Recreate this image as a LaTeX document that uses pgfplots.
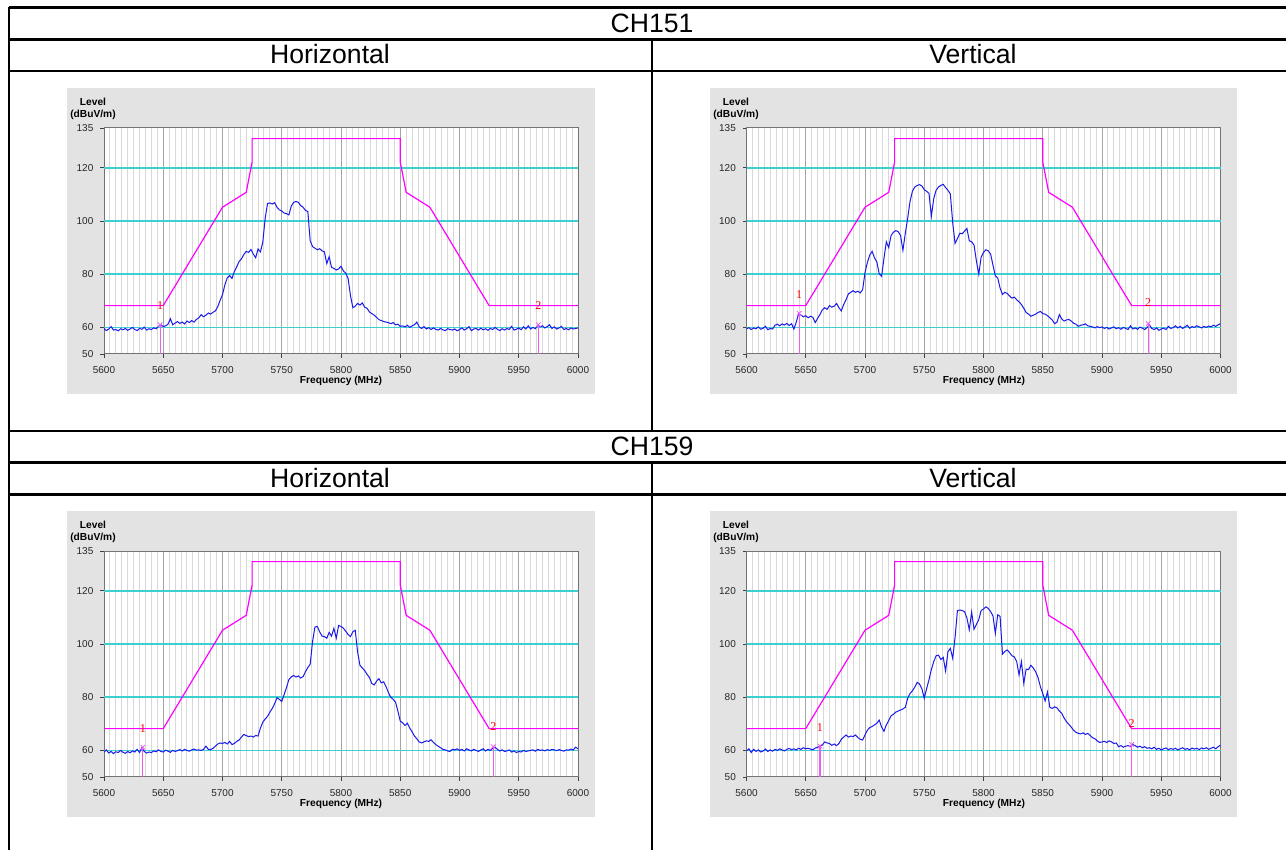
\documentclass[border=0pt]{standalone}
\usepackage{fontspec}
\setmainfont{Liberation Sans}
\newfontfamily\labfont{Liberation Serif}
\usepackage{pgfplots}
\usepackage{pgfplotstable}
\pgfplotsset{compat=1.18}

\definecolor{panel}{RGB}{227,227,227}
\definecolor{gridmaj}{RGB}{165,165,165}
\definecolor{gridmin}{RGB}{216,216,216}
\definecolor{gridcy}{RGB}{60,208,208}
\definecolor{maskc}{RGB}{255,0,255}
\definecolor{tracec}{RGB}{25,25,235}
\definecolor{mkc}{RGB}{240,90,240}

% spectrum traces, 2 MHz steps
\pgfplotstableread{
f h151 v151 h159 v159
5600 59.6 59.4 59.4 59.8
5602 58.8 59.9 60.2 60.6
5604 59.4 59.2 59.0 59.2
5606 60.3 59.8 59.6 60.4
5608 59.0 59.5 58.8 59.6
5610 59.2 60.2 59.5 60.2
5612 58.7 59.3 59.2 59.4
5614 59.5 59.7 60.0 59.8
5616 59.1 60.4 59.3 60.5
5618 59.6 59.1 58.9 59.6
5620 58.9 59.6 59.6 60.2
5622 59.4 59.4 59.1 59.7
5624 60.0 60.8 59.8 60.4
5626 59.2 61.2 59.4 60.0
5628 58.8 60.6 60.4 60.6
5630 59.6 61.3 59.2 60.2
5632 59.3 60.9 61.0 59.8
5634 60.1 61.5 59.6 60.4
5636 59.0 60.7 59.0 60.7
5638 59.5 61.4 59.4 60.3
5640 59.2 59.4 59.2 60.6
5642 59.8 62.0 59.8 60.2
5644 59.5 65.2 59.5 60.8
5646 60.4 64.6 60.2 60.4
5648 61.0 64.0 59.6 61.0
5650 60.3 64.4 59.4 60.6
5652 60.6 63.6 60.1 60.8
5654 61.2 64.2 59.7 60.5
5656 63.3 63.8 59.3 60.2
5658 61.0 61.8 60.0 60.9
5660 61.6 63.4 59.6 61.2
5662 62.2 64.8 59.9 61.6
5664 61.5 66.6 60.3 62.0
5666 62.0 67.4 59.8 63.2
5668 61.3 66.8 60.4 62.8
5670 62.4 68.2 60.0 62.6
5672 61.8 67.6 59.7 61.9
5674 62.6 68.0 60.2 62.4
5676 62.0 69.0 60.5 61.8
5678 63.0 67.4 60.1 62.6
5680 63.6 66.2 60.2 64.2
5682 64.8 68.6 60.0 65.0
5684 64.0 70.4 60.4 65.8
5686 64.6 72.6 61.6 65.0
5688 65.4 73.2 60.4 65.4
5690 65.0 73.8 60.3 65.2
5692 65.7 73.2 60.8 65.8
5694 66.2 73.6 61.6 64.8
5696 67.8 73.0 62.4 64.2
5698 70.2 74.2 62.8 63.9
5700 72.3 80.6 62.6 65.8
5702 76.0 84.4 63.0 67.6
5704 78.6 87.2 62.4 68.6
5706 79.5 88.6 63.4 69.0
5708 78.4 86.2 62.2 69.6
5710 81.0 84.6 62.6 70.2
5712 82.8 80.2 63.4 71.4
5714 84.8 79.2 63.9 68.8
5716 85.8 86.0 65.0 67.2
5718 87.4 92.2 66.0 69.6
5720 88.6 90.0 65.6 71.2
5722 88.2 94.6 65.2 73.0
5724 89.3 95.8 65.4 73.6
5726 87.6 96.4 65.0 74.4
5728 86.2 96.0 65.6 74.8
5730 89.5 94.6 65.4 75.2
5732 88.4 89.0 68.4 75.6
5734 92.0 95.4 70.6 76.2
5736 101.0 101.0 71.8 79.6
5738 106.6 107.4 72.8 81.4
5740 106.8 111.2 74.4 82.4
5742 106.4 112.8 75.8 83.8
5744 106.9 113.4 77.6 85.6
5746 105.2 113.7 79.8 85.0
5748 104.2 113.2 79.2 83.2
5750 103.8 111.8 78.4 79.6
5752 103.0 111.2 81.0 83.2
5754 102.8 110.4 83.6 86.6
5756 102.3 101.8 86.6 90.4
5758 105.6 108.4 87.6 93.4
5760 107.0 111.6 88.2 95.6
5762 107.4 112.8 87.6 95.8
5764 107.0 113.4 88.0 94.2
5766 105.8 113.8 87.2 95.0
5768 105.2 112.6 87.8 89.9
5770 104.0 111.6 89.6 97.1
5772 103.6 110.2 91.2 98.4
5774 92.6 99.4 92.4 94.6
5776 90.4 91.6 101.0 102.4
5778 89.8 93.4 106.4 112.6
5780 89.2 95.4 106.6 112.8
5782 89.6 95.2 104.6 112.6
5784 88.8 96.2 103.0 112.2
5786 88.4 97.2 102.8 109.8
5788 84.0 92.6 102.2 105.4
5790 86.6 92.2 104.4 112.0
5792 82.6 91.0 103.0 105.6
5794 82.2 85.0 105.9 107.4
5796 81.6 80.0 102.2 109.2
5798 82.0 86.4 107.0 112.6
5800 83.0 88.2 106.6 113.2
5802 81.2 89.2 106.0 114.0
5804 80.4 88.8 104.8 113.4
5806 78.4 87.6 103.6 112.2
5808 72.0 83.4 102.8 110.6
5810 67.4 79.4 104.6 104.0
5812 68.0 78.6 105.2 111.0
5814 69.0 74.8 97.0 110.4
5816 68.4 72.4 92.0 96.2
5818 69.2 73.2 91.0 97.2
5820 67.6 72.8 90.0 97.8
5822 67.2 71.8 88.6 96.8
5824 65.8 71.0 87.4 95.6
5826 65.2 71.4 85.2 95.2
5828 64.6 70.4 84.6 93.4
5830 63.8 69.6 86.0 88.4
5832 62.9 68.6 87.0 93.4
5834 62.6 67.2 85.4 85.2
5836 62.2 65.6 85.8 90.6
5838 62.0 65.0 84.0 90.4
5840 61.8 64.2 81.8 92.0
5842 61.4 64.6 80.0 91.0
5844 61.8 65.0 79.2 89.6
5846 61.0 65.6 78.2 87.4
5848 61.2 66.0 74.8 84.0
5850 60.4 65.2 71.0 81.4
5852 60.6 65.0 70.4 78.6
5854 60.2 64.4 69.4 82.0
5856 60.8 63.6 70.2 76.2
5858 60.0 62.8 68.4 75.8
5860 60.6 61.4 67.0 76.4
5862 61.0 62.0 65.4 76.0
5864 62.0 64.8 64.4 74.8
5866 60.2 63.2 63.2 74.0
5868 59.6 62.4 62.8 72.2
5870 60.3 62.8 63.2 70.8
5872 59.4 63.0 63.6 69.8
5874 59.9 62.4 63.4 68.8
5876 59.2 61.6 64.0 67.6
5878 59.8 61.2 63.0 66.8
5880 59.3 60.4 62.2 66.4
5882 59.0 60.8 61.6 66.2
5884 59.6 61.0 61.0 66.6
5886 59.1 61.3 60.4 66.0
5888 58.8 60.6 60.2 66.4
5890 59.5 60.4 59.8 65.6
5892 59.2 60.2 59.6 64.8
5894 59.0 59.8 60.4 64.4
5896 59.4 60.3 60.2 63.6
5898 58.7 59.9 60.6 63.0
5900 59.2 60.2 60.0 63.2
5902 59.8 59.6 60.4 63.4
5904 59.0 60.0 59.8 63.0
5906 59.5 59.4 60.6 63.6
5908 60.3 59.8 60.2 63.2
5910 58.8 60.2 59.8 62.6
5912 59.4 59.5 60.4 62.8
5914 59.6 59.9 60.0 61.4
5916 59.0 59.3 59.6 61.8
5918 59.7 60.0 60.2 61.2
5920 59.1 59.6 60.6 61.6
5922 59.5 59.2 59.8 61.8
5924 58.9 60.6 60.4 61.4
5926 59.6 59.4 60.0 62.2
5928 59.2 59.8 60.8 61.8
5930 60.0 59.3 61.2 61.2
5932 59.3 60.1 60.4 61.6
5934 58.8 59.7 59.8 61.0
5936 59.5 59.2 60.2 61.4
5938 59.0 59.9 59.6 60.8
5940 59.6 61.0 59.8 61.0
5942 59.2 59.6 60.2 60.6
5944 60.4 59.2 59.4 61.2
5946 59.0 59.8 59.8 60.4
5948 59.3 58.9 59.2 60.8
5950 59.8 59.4 59.6 60.2
5952 59.1 59.7 59.4 60.6
5954 60.2 59.2 60.0 60.9
5956 59.4 60.4 59.6 60.3
5958 60.6 59.6 59.8 60.7
5960 59.4 59.9 60.0 60.4
5962 60.0 60.6 60.2 60.8
5964 59.5 59.8 59.7 60.2
5966 60.8 60.4 60.4 60.6
5968 60.2 59.6 60.0 61.0
5970 60.6 60.2 60.2 60.4
5972 59.8 60.8 59.8 60.7
5974 60.3 59.7 60.3 60.2
5976 61.0 60.3 60.0 60.9
5978 59.6 60.0 60.4 60.5
5980 60.2 60.6 60.2 60.8
5982 59.4 60.2 59.9 60.3
5984 59.8 59.8 60.3 60.9
5986 60.4 60.4 60.0 60.6
5988 59.2 60.0 59.7 61.0
5990 59.6 60.5 60.2 60.4
5992 59.1 60.2 60.1 60.8
5994 59.8 60.8 60.5 61.2
5996 59.4 60.4 60.2 60.6
5998 59.6 61.0 61.2 61.4
6000 59.8 61.4 60.6 62.0
}\spectra

\pgfplotsset{
  emi/.style={
    scale only axis, width=237pt, height=113pt,
    xmin=5600, xmax=6000, ymin=50, ymax=135,
    axis background/.style={fill=white},
    axis line style={draw=black!55, line width=0.5pt},
    xtick={5600,5650,...,6000},
    minor x tick num=9,
    ytick={50,60,80,100,120,135},
    xmajorgrids, xminorgrids,
    major grid style={draw=gridmaj, line width=0.5pt},
    minor grid style={draw=gridmin, line width=0.5pt},
    extra y ticks={60,80,100,120},
    extra y tick labels={},
    extra y tick style={grid=major, major grid style={draw=gridcy, line width=0.8pt}, major tick length=0pt},
    tick align=outside, tick pos=left,
    major tick length=1.8pt, minor tick length=0pt,
    tick style={draw=black!75, line width=0.4pt},
    tick label style={font=\fontsize{5}{6}\selectfont, text=black!85},
    xticklabel style={yshift=-1pt},
    /pgf/number format/assume math mode=true,
    /pgf/number format/1000 sep={},
  },
  trace/.style={draw=tracec, line width=0.5pt},
  mask/.style={draw=maskc, line width=0.6pt},
  mk/.style={draw=mkc, line width=0.6pt},
  mkx/.style={draw=mkc, only marks, mark=x, mark size=1.6pt, mark options={line width=0.4pt}},
}
\tikzset{mklab/.style={text=red, font=\labfont\fontsize{6}{7}\selectfont, inner sep=0pt}}

\begin{document}
\begin{tikzpicture}
\useasboundingbox (0,0) rectangle (643pt,425pt);
\begin{scope}[shift={(0pt,425pt)}, x=0.5pt, y=-0.5pt]
  \fill[panel] (67,88) rectangle (595,394);
  \fill[panel] (710,88) rectangle (1237,394);
  \fill[panel] (67,511) rectangle (595,817);
  \fill[panel] (710,511) rectangle (1237,817);
  \begin{scope}[line width=1.3pt]
    \draw (9,7.5) -- (1300,7.5);
    \draw (9,39.5) -- (1300,39.5);
    \draw (9,71) -- (1300,71);
    \draw (9,431) -- (1300,431);
    \draw (9,462.5) -- (1300,462.5);
    \draw (9,494.5) -- (1300,494.5);
    \draw (9,7.5) -- (9,870);
    \draw (652,39.5) -- (652,431);
    \draw (652,462.5) -- (652,870);
  \end{scope}
  \begin{scope}[every node/.style={font=\fontsize{13.3}{15}\selectfont, anchor=base, inner sep=0pt}]
    \node at (652,32.5) {CH151};
    \node at (330,64) {Horizontal};
    \node at (973,64) {Vertical};
    \node at (652,456) {CH159};
    \node at (330,487.5) {Horizontal};
    \node at (973,487.5) {Vertical};
  \end{scope}
  \begin{scope}[every node/.style={font=\fontsize{5.1}{6}\selectfont\bfseries, inner sep=0pt}]
    \node at (93,101.7) {Level};
    \node at (93,115) {(dBuV/m)};
    \node at (341,381) {Frequency (MHz)};
    \node at (736,101.7) {Level};
    \node at (736,115) {(dBuV/m)};
    \node at (984,381) {Frequency (MHz)};
    \node at (93,524.5) {Level};
    \node at (93,538) {(dBuV/m)};
    \node at (341,804) {Frequency (MHz)};
    \node at (736,524.5) {Level};
    \node at (736,538) {(dBuV/m)};
    \node at (984,804) {Frequency (MHz)};
  \end{scope}
\end{scope}

% CH151 horizontal
\begin{axis}[emi, at={(52pt,248pt)}, anchor=south west]
  \addplot[trace] table[x=f, y=h151] {\spectra};
  \addplot[mask] coordinates {(5600,68.2) (5650,68.2) (5700,105.2) (5720,110.8) (5725,122.2) (5725,131) (5850,131) (5850,122.2) (5855,110.8) (5875,105.2) (5925,68.2) (6000,68.2)};
  \addplot[mk] coordinates {(5647.4,50) (5647.4,61.0)};
  \addplot[mk] coordinates {(5966.6,50) (5966.6,61.0)};
  \addplot[mkx] coordinates {(5647.4,61.0) (5966.6,61.0)};
  \node[mklab] at (axis cs:5647.4,68.3) {1};
  \node[mklab] at (axis cs:5966.6,68.3) {2};
\end{axis}

% CH151 vertical
\begin{axis}[emi, at={(373.25pt,248pt)}, anchor=south west]
  \addplot[trace] table[x=f, y=v151] {\spectra};
  \addplot[mask] coordinates {(5600,68.2) (5650,68.2) (5700,105.2) (5720,110.8) (5725,122.2) (5725,131) (5850,131) (5850,122.2) (5855,110.8) (5875,105.2) (5925,68.2) (6000,68.2)};
  \addplot[mk] coordinates {(5644.5,50) (5644.5,65.3)};
  \addplot[mk] coordinates {(5939,50) (5939,61.4)};
  \addplot[mkx] coordinates {(5644.5,65.3) (5939,61.4)};
  \node[mklab] at (axis cs:5644.5,72.3) {1};
  \node[mklab] at (axis cs:5939,69.2) {2};
\end{axis}

% CH159 horizontal
\begin{axis}[emi, at={(52pt,36.5pt)}, anchor=south west]
  \addplot[trace] table[x=f, y=h159] {\spectra};
  \addplot[mask] coordinates {(5600,68.2) (5650,68.2) (5700,105.2) (5720,110.8) (5725,122.2) (5725,131) (5850,131) (5850,122.2) (5855,110.8) (5875,105.2) (5925,68.2) (6000,68.2)};
  \addplot[mk] coordinates {(5632.8,50) (5632.8,61.2)};
  \addplot[mk] coordinates {(5928.5,50) (5928.5,61.4)};
  \addplot[mkx] coordinates {(5632.8,61.2) (5928.5,61.4)};
  \node[mklab] at (axis cs:5632.8,68.1) {1};
  \node[mklab] at (axis cs:5928.5,69.0) {2};
\end{axis}

% CH159 vertical
\begin{axis}[emi, at={(373.25pt,36.5pt)}, anchor=south west]
  \addplot[trace] table[x=f, y=v159] {\spectra};
  \addplot[mask] coordinates {(5600,68.2) (5650,68.2) (5700,105.2) (5720,110.8) (5725,122.2) (5725,131) (5850,131) (5850,122.2) (5855,110.8) (5875,105.2) (5925,68.2) (6000,68.2)};
  \addplot[mk] coordinates {(5662,50) (5662,61.6)};
  \addplot[mk] coordinates {(5925,50) (5925,62.2)};
  \addplot[mkx] coordinates {(5662,61.6) (5925,62.2)};
  \node[mklab] at (axis cs:5662,68.6) {1};
  \node[mklab] at (axis cs:5925,70.0) {2};
\end{axis}
\end{tikzpicture}
\end{document}
